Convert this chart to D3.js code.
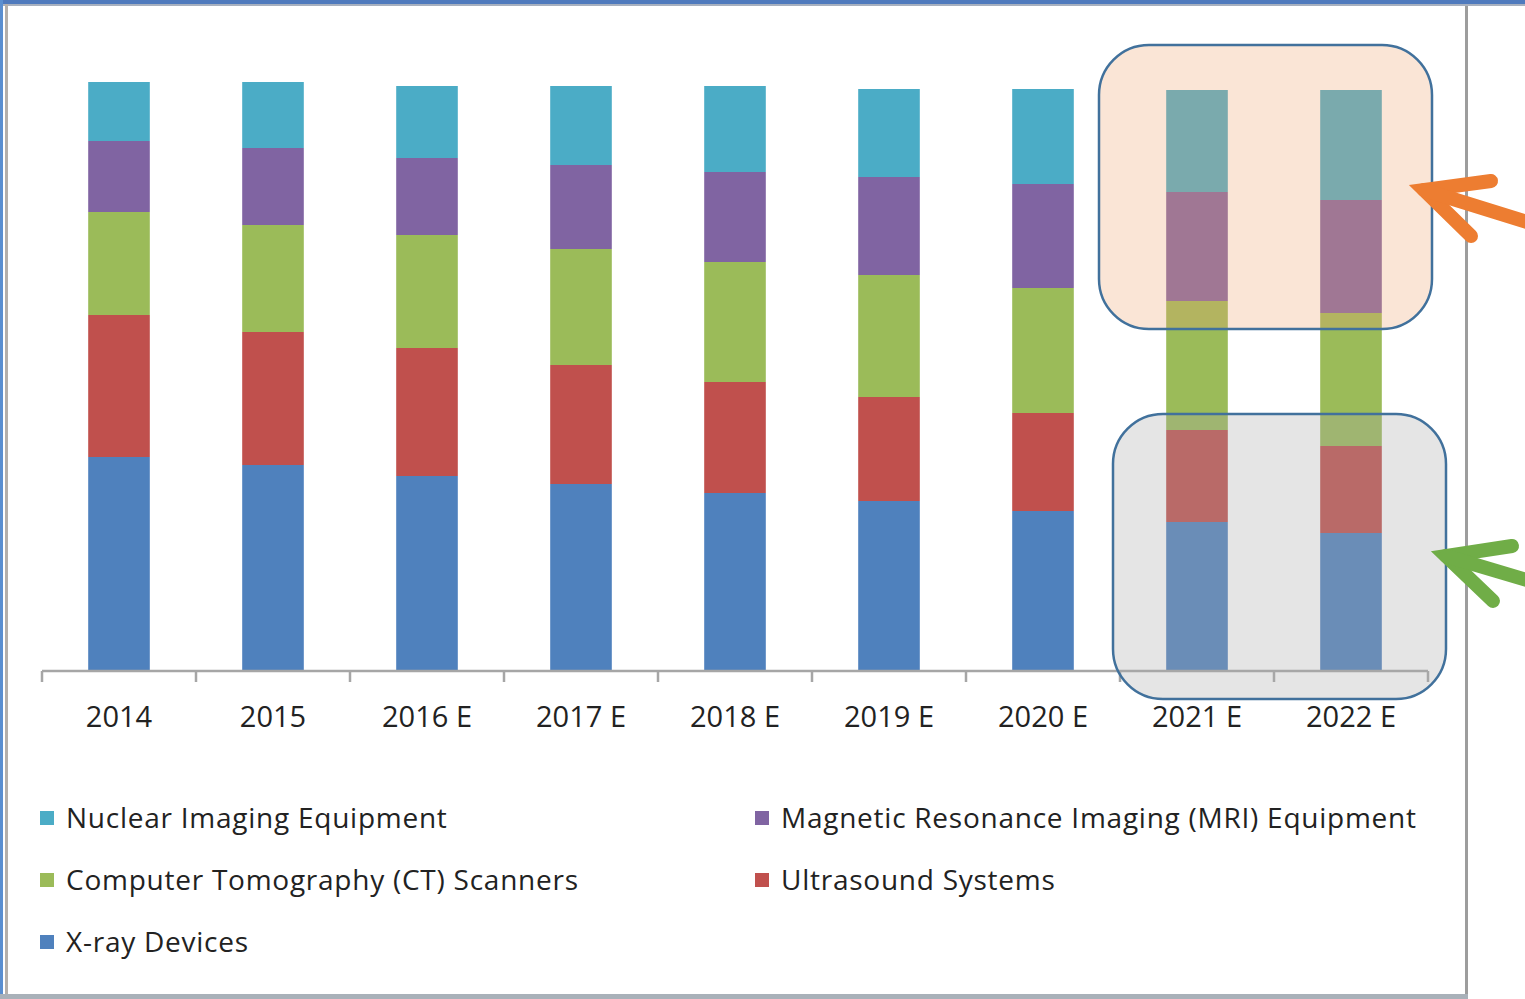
<!DOCTYPE html>
<html>
<head>
<meta charset="utf-8">
<script src="https://cdn.jsdelivr.net/npm/d3@7/dist/d3.min.js"></script>
<style>
  html, body { margin: 0; padding: 0; background: #ffffff; }
  svg { display: block; }
</style>
</head>
<body>
<svg id="chart" width="1525" height="999"></svg>
<script>
// Medical imaging equipment market, share by modality (stacked), 2014–2022
const years = ["2014", "2015", "2016 E", "2017 E", "2018 E", "2019 E", "2020 E", "2021 E", "2022 E"];

const xray       = [21.4, 20.6, 19.5, 18.7, 17.8, 17.0, 16.0, 14.9, 13.8];
const ultrasound = [14.2, 13.3, 12.8, 11.9, 11.1, 10.4,  9.8,  9.2,  8.7];
const ct         = [10.3, 10.7, 11.3, 11.6, 12.0, 12.2, 12.5, 12.9, 13.3];
const mri        = [ 7.1,  7.7,  7.7,  8.4,  9.0,  9.8, 10.4, 10.9, 11.3];
const nuclear    = [ 5.9,  6.6,  7.2,  7.9,  8.6,  8.8,  9.5, 10.2, 11.0];

const seriesNames = [
  "X-ray Devices",
  "Ultrasound Systems",
  "Computer Tomography (CT) Scanners",
  "Magnetic Resonance Imaging (MRI) Equipment",
  "Nuclear Imaging Equipment"
];
const seriesValues = [xray, ultrasound, ct, mri, nuclear];
const seriesColors = ["#4f81bd", "#c0504d", "#9bbb59", "#8064a2", "#4bacc6"];

// Legend reads in two columns, top row first
const legendOrder = [4, 3, 2, 1, 0];

const svg = d3.select("#chart");

// rows for d3.stack
const rows = years.map((yr, i) => {
  const r = { year: yr };
  seriesNames.forEach((n, k) => { r[n] = seriesValues[k][i]; });
  return r;
});
const stacked = d3.stack().keys(seriesNames)(rows);

const x = d3.scaleBand()
  .domain(years)
  .range([42, 1428])
  .paddingInner(0.6)
  .paddingOuter(0.3);

const y = d3.scaleLinear().domain([0, 60]).range([671, 71]);

const color = d3.scaleOrdinal().domain(seriesNames).range(seriesColors);

// ---- frame ----
const frame = svg.append("g");
frame.append("rect").attr("x", 0).attr("y", 0).attr("width", 1525).attr("height", 4).attr("fill", "#4f7abd");
frame.append("rect").attr("x", 0).attr("y", 4).attr("width", 1525).attr("height", 2).attr("fill", "#a7b0bf");
frame.append("rect").attr("x", 0).attr("y", 0).attr("width", 3).attr("height", 999).attr("fill", "#5b8fd0");
frame.append("rect").attr("x", 5).attr("y", 4).attr("width", 3).attr("height", 995).attr("fill", "#b5b0ab");
frame.append("rect").attr("x", 1465).attr("y", 6).attr("width", 3).attr("height", 990).attr("fill", "#9d9d9d");
frame.append("rect").attr("x", 0).attr("y", 994).attr("width", 1468).attr("height", 5).attr("fill", "#a9b1b9");

// ---- bars ----
svg.append("g")
  .selectAll("g")
  .data(stacked)
  .join("g")
  .attr("fill", d => color(d.key))
  .selectAll("rect")
  .data(d => d)
  .join("rect")
  .attr("x", d => x(d.data.year))
  .attr("width", x.bandwidth())
  .attr("y", d => y(d[1]))
  .attr("height", d => y(d[0]) - y(d[1]));

// ---- category axis ----
const step = x.step();
const [r0, r1] = x.range();
const axisG = svg.append("g").attr("transform", `translate(0,${y(0)})`);
axisG.append("line")
  .attr("x1", r0).attr("x2", r1)
  .attr("y1", 0).attr("y2", 0)
  .attr("stroke", "#a6a6a6").attr("stroke-width", 2.5);
axisG.selectAll("line.tick")
  .data(d3.range(years.length + 1))
  .join("line")
  .attr("class", "tick")
  .attr("x1", i => r0 + i * step).attr("x2", i => r0 + i * step)
  .attr("y1", 0).attr("y2", 11)
  .attr("stroke", "#a6a6a6").attr("stroke-width", 2.5);

const labels = svg.append("g")
  .attr("transform", `translate(0,${y(0)})`)
  .call(d3.axisBottom(x).tickSize(0).tickPadding(0));
labels.select(".domain").remove();
labels.selectAll("text")
  .attr("y", 56)
  .attr("dy", 0)
  .attr("fill", "#222222")
  .style("font-family", "'Open Sans', 'Liberation Sans', sans-serif")
  .style("font-size", "29px");

// ---- highlight boxes ----
svg.append("rect")
  .attr("x", 1099).attr("y", 45).attr("width", 333).attr("height", 284)
  .attr("rx", 50).attr("ry", 50)
  .attr("fill", "rgb(237,166,115)").attr("fill-opacity", 0.29)
  .attr("stroke", "#41719c").attr("stroke-width", 2.5);

svg.append("rect")
  .attr("x", 1113).attr("y", 414).attr("width", 333).attr("height", 285)
  .attr("rx", 50).attr("ry", 50)
  .attr("fill", "rgb(168,168,168)").attr("fill-opacity", 0.3)
  .attr("stroke", "#41719c").attr("stroke-width", 2.5);

// ---- arrows ----
function arrow(tip, upper, lower, tail, col) {
  const g = svg.append("g")
    .attr("fill", "none").attr("stroke", col)
    .attr("stroke-width", 14).attr("stroke-linecap", "round");
  g.append("path")
    .attr("d", `M${upper[0]},${upper[1]}L${tip[0]},${tip[1]}L${lower[0]},${lower[1]}`)
    .attr("stroke-linejoin", "miter").attr("stroke-miterlimit", 10);
  g.append("path").attr("d", `M${tip[0]},${tip[1]}L${tail[0]},${tail[1]}`);
}
arrow([1424, 190], [1491, 181], [1471, 236], [1540, 226], "#ed7d31");
arrow([1446, 556], [1512, 546], [1493, 601], [1540, 584], "#70ad47");

// ---- legend ----
const legend = svg.append("g");
const legendItems = legend.selectAll("g")
  .data(legendOrder)
  .join("g")
  .attr("transform", (k, i) => `translate(${i % 2 === 0 ? 40 : 755},${818 + Math.floor(i / 2) * 62})`);
legendItems.append("rect")
  .attr("x", 0).attr("y", -7).attr("width", 14).attr("height", 14)
  .attr("fill", k => seriesColors[k]);
legendItems.append("text")
  .attr("x", 26).attr("y", 0).attr("dy", "0.36em")
  .attr("fill", "#222222")
  .style("font-family", "'Open Sans', 'Liberation Sans', sans-serif")
  .style("font-size", "28px")
  .style("letter-spacing", "0.75px")
  .text(k => seriesNames[k]);
</script>
</body>
</html>
